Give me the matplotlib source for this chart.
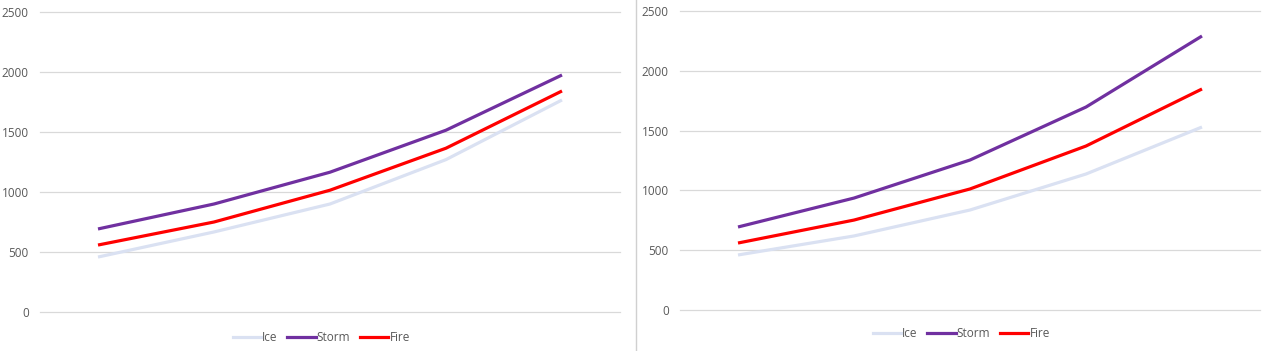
import matplotlib.pyplot as plt
from matplotlib.lines import Line2D

plt.rcParams['font.family'] = ['Open Sans', 'DejaVu Sans']

# data
categories = ['1', '2', '3', '4', '5']
series_names = ['Ice', 'Storm', 'Fire']
left_ice = [458, 667, 900, 1270, 1767]
left_storm = [692, 900, 1165, 1515, 1975]
left_fire = [558, 750, 1015, 1365, 1842]
right_ice = [460, 619, 836, 1137, 1530]
right_storm = [694, 936, 1254, 1697, 2291]
right_fire = [560, 752, 1012, 1371, 1848]

colors = {'Ice': '#DAE1F2', 'Storm': '#7030A0', 'Fire': '#FF0000'}
grey = '#595959'

fig = plt.figure(figsize=(12.69, 3.51), dpi=100)
W, H = 1269, 351


def make_axes(x0, x1, y0, y1):
    return fig.add_axes([x0 / W, 1 - y0 / H, (x1 - x0) / W, (y0 - y1) / H])


def draw(ax, data, legend_y):
    xs = range(len(categories))
    for name, vals in zip(series_names, data):
        ax.plot(xs, vals, color=colors[name], lw=2.3, solid_capstyle='butt')
    ax.set_xlim(-0.5, len(categories) - 0.5)
    ax.set_ylim(0, 2500)
    ax.set_yticks(range(0, 2501, 500))
    ax.set_xticks([])
    for v in range(0, 2501, 500):
        ax.axhline(v, color='#d9d9d9', lw=0.9, zorder=0, clip_on=False)
    for s in ax.spines.values():
        s.set_visible(False)
    ax.tick_params(axis='y', length=0, pad=8, labelsize=8.5, labelcolor=grey)
    handles = [Line2D([], [], color=colors[n], lw=2.3) for n in series_names]
    ax.legend(handles, series_names, loc='center', bbox_to_anchor=(0.485, legend_y),
              ncol=3, frameon=False, fontsize=8.5, labelcolor=grey,
              handlelength=2.4, handletextpad=0.1, columnspacing=0.8)


ax1 = make_axes(40, 620, 312, 12)
draw(ax1, [left_ice, left_storm, left_fire], -0.085)
ax2 = make_axes(680, 1260, 310, 11)
draw(ax2, [right_ice, right_storm, right_fire], -0.08)

# separator between the two charts
fig.add_artist(Line2D([636 / W, 636 / W], [0, 1], color='#d0d0d0', lw=1))

fig.savefig('out.png', dpi=100, facecolor='white')
